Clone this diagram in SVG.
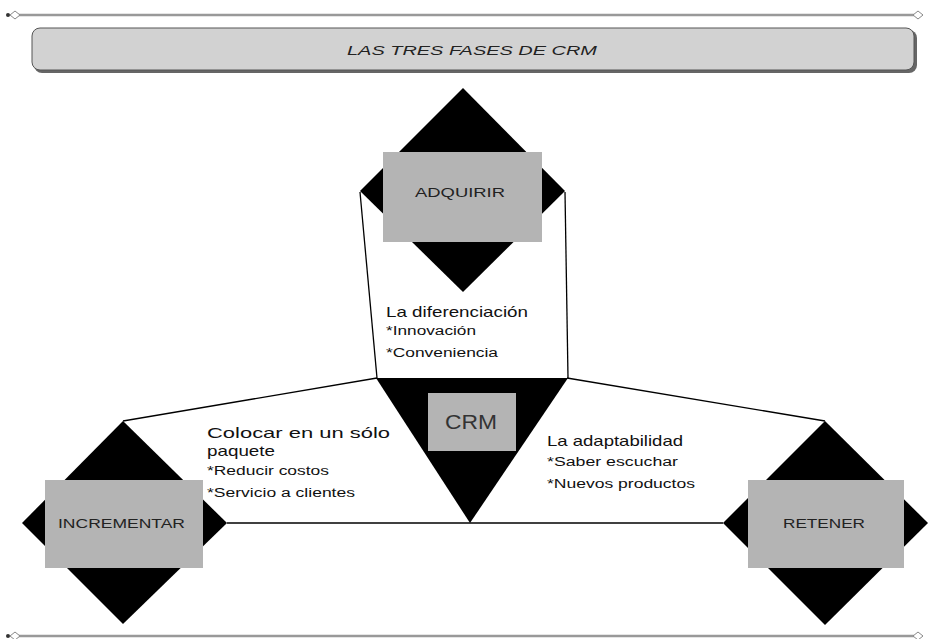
<svg xmlns="http://www.w3.org/2000/svg" width="928" height="639" viewBox="0 0 928 639">
<style>
.dia{fill:#000}
.box{fill:#b4b4b4}
.lbl{font-family:"Liberation Sans",Arial,sans-serif;font-size:13px;fill:#222}
.t1{font-family:"Liberation Sans",Arial,sans-serif;font-size:15px;fill:#111}
.t2{font-family:"Liberation Sans",Arial,sans-serif;font-size:12.5px;fill:#111}
.conn{stroke:#000;stroke-width:1.3;fill:none}
.rule{stroke:#999;stroke-width:2.5;fill:none}
.end{fill:#fff;stroke:#888;stroke-width:1}
</style>
<rect width="928" height="639" fill="#fff"/>
<g id="rules">
<line class="rule" x1="18" y1="15" x2="914" y2="15"/>
<circle cx="8" cy="15" r="2" fill="#333"/>
<polygon class="end" points="10,15 15,11 20,15 15,19"/>
<polygon class="end" points="913,15 918,11 923,15 918,19"/>
<line class="rule" x1="18" y1="636" x2="914" y2="636"/>
<circle cx="8" cy="636" r="2" fill="#333"/>
<polygon class="end" points="10,636 15,632 20,636 15,640"/>
<polygon class="end" points="913,636 918,632 923,636 918,640"/>
</g>
<g id="title">
<rect x="34" y="30" width="883" height="43" rx="8" fill="#666"/>
<rect x="32" y="28" width="882" height="42" rx="8" fill="#d2d2d2" stroke="#555" stroke-width="1"/>
<text x="347" y="55" font-family="'Liberation Sans',Arial,sans-serif" font-size="13.5" font-style="italic" fill="#222" textLength="250" lengthAdjust="spacingAndGlyphs">LAS  TRES  FASES   DE  CRM</text>
</g>
<g id="connectors">
<line class="conn" x1="360" y1="192" x2="377" y2="378"/>
<line class="conn" x1="565" y1="192" x2="568" y2="378"/>
<line class="conn" x1="377" y1="378" x2="123" y2="421"/>
<line class="conn" x1="567" y1="378" x2="825" y2="421"/>
<line class="conn" x1="227" y1="523" x2="723" y2="523"/>
</g>
<g id="crm">
<polygon class="dia" points="376,378 568,378 470,523"/>
<rect class="box" x="428" y="393" width="88" height="58"/>
<text x="445" y="429" font-family="'Liberation Sans',Arial,sans-serif" font-size="21" fill="#333" textLength="52" lengthAdjust="spacingAndGlyphs">CRM</text>
</g>
<g id="adquirir">
<polygon class="dia" points="463,88 565,191 463,292 360,191"/>
<rect class="box" x="383" y="152" width="159" height="90"/>
<text class="lbl" x="415" y="197" textLength="90" lengthAdjust="spacingAndGlyphs">ADQUIRIR</text>
</g>
<g id="incrementar">
<polygon class="dia" points="123,421 227,523 123,624 22,523"/>
<rect class="box" x="45" y="480" width="158" height="88"/>
<text class="lbl" x="58" y="528" textLength="127" lengthAdjust="spacingAndGlyphs">INCREMENTAR</text>
</g>
<g id="retener">
<polygon class="dia" points="825,421 928,523 825,625 723,523"/>
<rect class="box" x="748" y="480" width="156" height="88"/>
<text class="lbl" x="783" y="528" textLength="82" lengthAdjust="spacingAndGlyphs">RETENER</text>
</g>
<g id="notes">
<text class="t1" x="386" y="317" textLength="142" lengthAdjust="spacingAndGlyphs">La diferenciación</text>
<text class="t2" x="386" y="335" textLength="90" lengthAdjust="spacingAndGlyphs">*Innovación</text>
<text class="t2" x="386" y="357" textLength="112" lengthAdjust="spacingAndGlyphs">*Conveniencia</text>
<text class="t1" x="207" y="438" textLength="183" lengthAdjust="spacingAndGlyphs">Colocar en un sólo</text>
<text class="t1" x="207" y="456" textLength="68" lengthAdjust="spacingAndGlyphs">paquete</text>
<text class="t2" x="207" y="475" textLength="122" lengthAdjust="spacingAndGlyphs">*Reducir costos</text>
<text class="t2" x="207" y="497" textLength="148" lengthAdjust="spacingAndGlyphs">*Servicio a clientes</text>
<text class="t1" x="547" y="446" textLength="136" lengthAdjust="spacingAndGlyphs">La adaptabilidad</text>
<text class="t2" x="547" y="466" textLength="131" lengthAdjust="spacingAndGlyphs">*Saber escuchar</text>
<text class="t2" x="547" y="488" textLength="148" lengthAdjust="spacingAndGlyphs">*Nuevos productos</text>
</g>
</svg>
